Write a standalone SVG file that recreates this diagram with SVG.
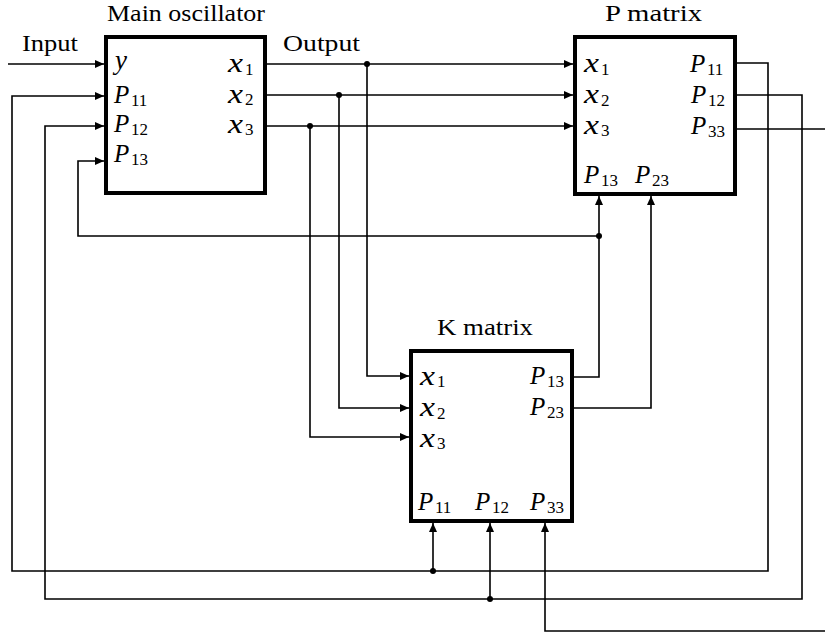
<svg xmlns="http://www.w3.org/2000/svg" width="825" height="635" viewBox="0 0 825 635">
<style>
.box{fill:#fff;stroke:#000;stroke-width:4}
.ln{fill:none;stroke:#000;stroke-width:1.6}
.ttl{font-family:"Liberation Serif",serif;font-size:23px;fill:#000}
.mx{font-family:"Liberation Serif",serif;font-style:italic;font-size:27px;fill:#000}
.my{font-family:"Liberation Serif",serif;font-style:italic;font-size:27px;fill:#000}
.mp{font-family:"Liberation Serif",serif;font-style:italic;font-size:25px;fill:#000}
.sub{font-family:"Liberation Serif",serif;font-size:17px;fill:#000}
.dot{fill:#000}
</style>
<defs>
<marker id="ah" markerUnits="userSpaceOnUse" markerWidth="9" markerHeight="8" refX="9" refY="4" orient="auto">
<path d="M0,0 L9,4 L0,8 z" fill="#000"/>
</marker>
</defs>
<rect width="825" height="635" fill="#fff"/>

<g id="connectors">
<polyline class="ln" points="8,64 104,64" marker-end="url(#ah)"/>
<polyline class="ln" points="267,64 573,64" marker-end="url(#ah)"/>
<polyline class="ln" points="367,64 367,376 409,376" marker-end="url(#ah)"/>
<polyline class="ln" points="267,95 573,95" marker-end="url(#ah)"/>
<polyline class="ln" points="339,95 339,408 409,408" marker-end="url(#ah)"/>
<polyline class="ln" points="267,126 573,126" marker-end="url(#ah)"/>
<polyline class="ln" points="310,126 310,437 409,437" marker-end="url(#ah)"/>
<polyline class="ln" points="737,63 768,63 768,571 12,571 12,96 104,96" marker-end="url(#ah)"/>
<polyline class="ln" points="433,571 433,523" marker-end="url(#ah)"/>
<polyline class="ln" points="737,95 802,95 802,599 45,599 45,126 104,126" marker-end="url(#ah)"/>
<polyline class="ln" points="490,599 490,523" marker-end="url(#ah)"/>
<polyline class="ln" points="737,129 825,129"/>
<polyline class="ln" points="825,631 545,631 545,523" marker-end="url(#ah)"/>
<polyline class="ln" points="574,377 599,377 599,196" marker-end="url(#ah)"/>
<polyline class="ln" points="599,236 78,236 78,161 104,161" marker-end="url(#ah)"/>
<polyline class="ln" points="574,408 651,408 651,196" marker-end="url(#ah)"/>
<circle class="dot" cx="367" cy="64" r="3"/>
<circle class="dot" cx="339" cy="95" r="3"/>
<circle class="dot" cx="310" cy="126" r="3"/>
<circle class="dot" cx="599" cy="236" r="3"/>
<circle class="dot" cx="433" cy="571" r="3"/>
<circle class="dot" cx="490" cy="599" r="3"/>
<text class="ttl" x="22" y="51" textLength="56" lengthAdjust="spacingAndGlyphs">Input</text>
<text class="ttl" x="283" y="51" textLength="77" lengthAdjust="spacingAndGlyphs">Output</text>
</g>

<g id="main-oscillator">
<rect class="box" x="106" y="37" width="159" height="156"/>
<text class="ttl" x="107" y="21" textLength="158" lengthAdjust="spacingAndGlyphs">Main oscillator</text>
<text class="my" x="115" y="69">y</text>
<text class="mp" x="114" y="103">P</text><text class="sub" x="131" y="106">11</text>
<text class="mp" x="114" y="132">P</text><text class="sub" x="131" y="135">12</text>
<text class="mp" x="114" y="162">P</text><text class="sub" x="131" y="165">13</text>
<text class="mx" x="228" y="72" textLength="15" lengthAdjust="spacingAndGlyphs">x</text><text class="sub" x="245" y="75">1</text>
<text class="mx" x="228" y="103" textLength="15" lengthAdjust="spacingAndGlyphs">x</text><text class="sub" x="245" y="105">2</text>
<text class="mx" x="228" y="133" textLength="15" lengthAdjust="spacingAndGlyphs">x</text><text class="sub" x="245" y="135">3</text>
</g>

<g id="p-matrix">
<rect class="box" x="575" y="37" width="160" height="157"/>
<text class="ttl" x="605" y="21" textLength="97" lengthAdjust="spacingAndGlyphs">P matrix</text>
<text class="mx" x="584" y="72" textLength="15" lengthAdjust="spacingAndGlyphs">x</text><text class="sub" x="601" y="75">1</text>
<text class="mx" x="584" y="103" textLength="15" lengthAdjust="spacingAndGlyphs">x</text><text class="sub" x="601" y="106">2</text>
<text class="mx" x="584" y="134" textLength="15" lengthAdjust="spacingAndGlyphs">x</text><text class="sub" x="601" y="136">3</text>
<text class="mp" x="690" y="72">P</text><text class="sub" x="707" y="75">11</text>
<text class="mp" x="691" y="103">P</text><text class="sub" x="708" y="106">12</text>
<text class="mp" x="691" y="134">P</text><text class="sub" x="708" y="137">33</text>
<text class="mp" x="584" y="183">P</text><text class="sub" x="601" y="186">13</text>
<text class="mp" x="635" y="183">P</text><text class="sub" x="652" y="186">23</text>
</g>

<g id="k-matrix">
<rect class="box" x="411" y="351" width="161" height="170"/>
<text class="ttl" x="437" y="335" textLength="96" lengthAdjust="spacingAndGlyphs">K matrix</text>
<text class="mx" x="420" y="385" textLength="15" lengthAdjust="spacingAndGlyphs">x</text><text class="sub" x="437" y="387">1</text>
<text class="mx" x="420" y="416" textLength="15" lengthAdjust="spacingAndGlyphs">x</text><text class="sub" x="437" y="419">2</text>
<text class="mx" x="420" y="447" textLength="15" lengthAdjust="spacingAndGlyphs">x</text><text class="sub" x="437" y="449">3</text>
<text class="mp" x="530" y="384">P</text><text class="sub" x="547" y="387">13</text>
<text class="mp" x="530" y="415">P</text><text class="sub" x="547" y="418">23</text>
<text class="mp" x="418" y="510">P</text><text class="sub" x="435" y="513">11</text>
<text class="mp" x="475" y="510">P</text><text class="sub" x="492" y="513">12</text>
<text class="mp" x="530" y="510">P</text><text class="sub" x="547" y="513">33</text>
</g>
</svg>
